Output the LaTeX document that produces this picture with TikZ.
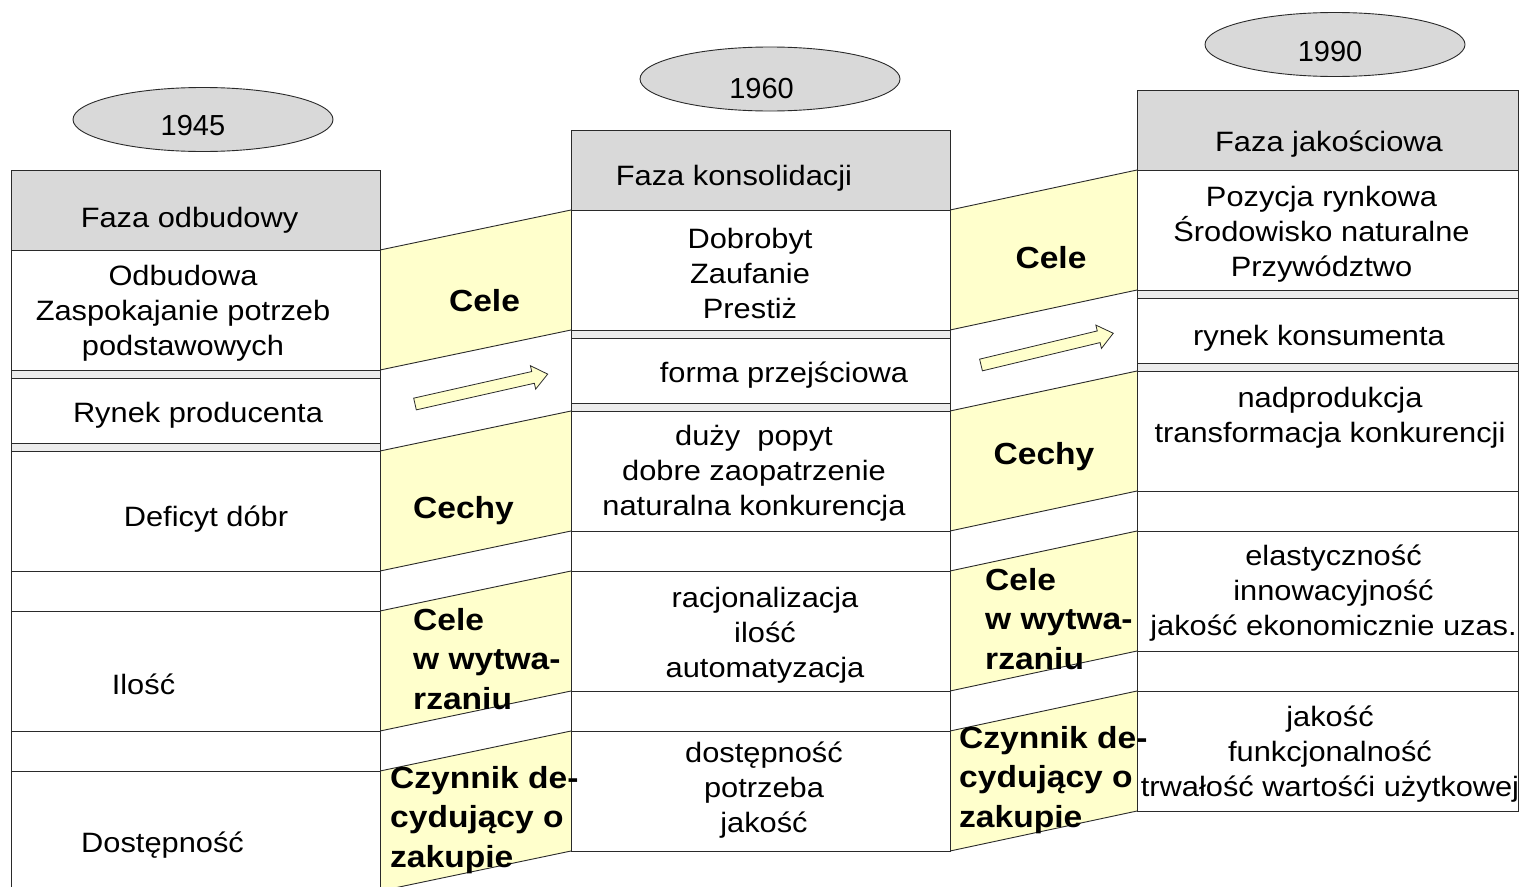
\documentclass[tikz,border=0pt]{standalone}
\usepackage{fontspec}
\setmainfont{Liberation Sans}[FakeStretch=1.1]
\newfontfamily\yearfont{Liberation Sans}
\usetikzlibrary{shapes.geometric}
\definecolor{hdr}{HTML}{D9D9D9}
\definecolor{strip}{HTML}{ECECEC}
\definecolor{yel}{HTML}{FFFFCC}
\definecolor{lc}{HTML}{2A2A2A}
\begin{document}
\begin{tikzpicture}[x=1pt,y=-1pt,
  ln/.style={draw=lc, line width=0.9pt},
  band/.style={fill=yel},
  txt/.style={inner sep=0pt, align=center, font=\fontsize{28}{35}\selectfont},
  lab/.style={inner sep=0pt, font=\bfseries\fontsize{30.5}{39.5}\selectfont},
  labl/.style={lab, align=left, anchor=west},
  year/.style={inner sep=0pt, font=\yearfont\fontsize{29}{35}\selectfont},
  yearov/.style={ellipse, ln, fill=hdr, minimum width=260pt, minimum height=64pt, inner sep=0pt},
  blockarrow/.style={ln, fill=yel, line width=0.8pt}]
\useasboundingbox (0,0) rectangle (1522,886);
\fill[white] (0,0) rectangle (1522,886);

% yellow bands between columns
\foreach \xa/\xb/\Ta/\Tb in {380/571/170/130, 950/1137/130/90} {
  \foreach \o/\p in {80/200, 281/401, 441/561, 601/721} {
    \fill[band] (\xa,\Ta+\o) -- (\xb,\Tb+\o) -- (\xb,\Tb+\p) -- (\xa,\Ta+\p) -- cycle;
    \draw[ln] (\xa,\Ta+\o) -- (\xb,\Tb+\o);
    \draw[ln] (\xa,\Ta+\p) -- (\xb,\Tb+\p);
  }
}

% columns
\foreach \xa/\xb/\T in {11/380/170, 571/950/130, 1137/1518/90} {
  \filldraw[ln, fill=hdr] (\xa,\T) rectangle (\xb,\T+80);
  \filldraw[ln, fill=white] (\xa,\T+80) rectangle (\xb,\T+200);
  \filldraw[ln, fill=strip] (\xa,\T+200) rectangle (\xb,\T+208);
  \filldraw[ln, fill=white] (\xa,\T+208) rectangle (\xb,\T+273);
  \filldraw[ln, fill=strip] (\xa,\T+273) rectangle (\xb,\T+281);
  \filldraw[ln, fill=white] (\xa,\T+281) rectangle (\xb,\T+721);
  \foreach \h in {401,441,561,601} {
    \draw[ln] (\xa,\T+\h) -- (\xb,\T+\h);
  }
}

% block arrows
\draw[blockarrow, shift={(415,404)}, rotate=12.7]
  (0,-6) -- (121,-6) -- (121,-12) -- (136,0) -- (121,12) -- (121,6) -- (0,6) -- cycle;
\draw[blockarrow, shift={(981,365)}, rotate=13.5]
  (0,-6) -- (121,-6) -- (121,-12) -- (136,0) -- (121,12) -- (121,6) -- (0,6) -- cycle;

% year ellipses
\node[yearov] (e1945) at (203,119.5) {};
\node[yearov] (e1960) at (770,79) {};
\node[yearov] (e1990) at (1335,44.5) {};
\node[year] (y1945) at (193,126) {1945};
\node[year] (y1960) at (761.5,88.5) {1960};
\node[year] (y1990) at (1330,51.5) {1990};

% left column texts
\node[txt] (l0) at (189.5,220) {Faza odbudowy};
\node[txt] (l1) at (183,313) {Odbudowa\\Zaspokajanie potrzeb\\podstawowych};
\node[txt] (l2) at (198,415) {Rynek producenta};
\node[txt] (l3) at (206,519) {Deficyt dóbr};
\node[txt] (l4) at (143.5,684) {Ilość};
\node[txt] (l5) at (162.5,845) {Dostępność};

% middle column texts
\node[txt] (m0) at (734,178) {Faza konsolidacji};
\node[txt] (m1) at (750,273.5) {Dobrobyt\\Zaufanie\\Prestiż};
\node[txt] (m2) at (784,375) {forma przejściowa};
\node[txt] (m3) at (754,473) {duży\ \ popyt\\dobre zaopatrzenie\\naturalna konkurencja};
\node[txt] (m4) at (765,635.5) {racjonalizacja\\ilość\\automatyzacja};
\node[txt] (m5) at (764,790) {dostępność\\potrzeba\\jakość};

% right column texts
\node[txt] (r0) at (1329,144) {Faza jakościowa};
\node[txt] (r1) at (1321.5,234) {Pozycja rynkowa\\Środowisko naturalne\\Przywództwo};
\node[txt] (r2) at (1319,338) {rynek konsumenta};
\node[txt] (r3) at (1330,418) {nadprodukcja\\transformacja konkurencji};
\node[txt] (r4) at (1333.5,593) {elastyczność\\innowacyjność\\jakość ekonomicznie uzas.};
\node[txt] (r5) at (1330,754) {jakość\\funkcjonalność\\trwałość wartośći użytkowej};

% band labels, left gap
\node[lab] (a1) at (484.5,301) {Cele};
\node[lab] (a2) at (463.5,511) {Cechy};
\node[labl] (a3) at (413,659) {Cele\\w wytwa-\\rzaniu};
\node[labl] (a4) at (390,820) {Czynnik de-\\cydujący o\\zakupie};

% band labels, right gap
\node[lab] (b1) at (1051,258) {Cele};
\node[lab] (b2) at (1044,457) {Cechy};
\node[labl] (b3) at (985,619) {Cele\\w wytwa-\\rzaniu};
\node[labl] (b4) at (959,780) {Czynnik de-\\cydujący o\\zakupie};
\end{tikzpicture}
\end{document}
